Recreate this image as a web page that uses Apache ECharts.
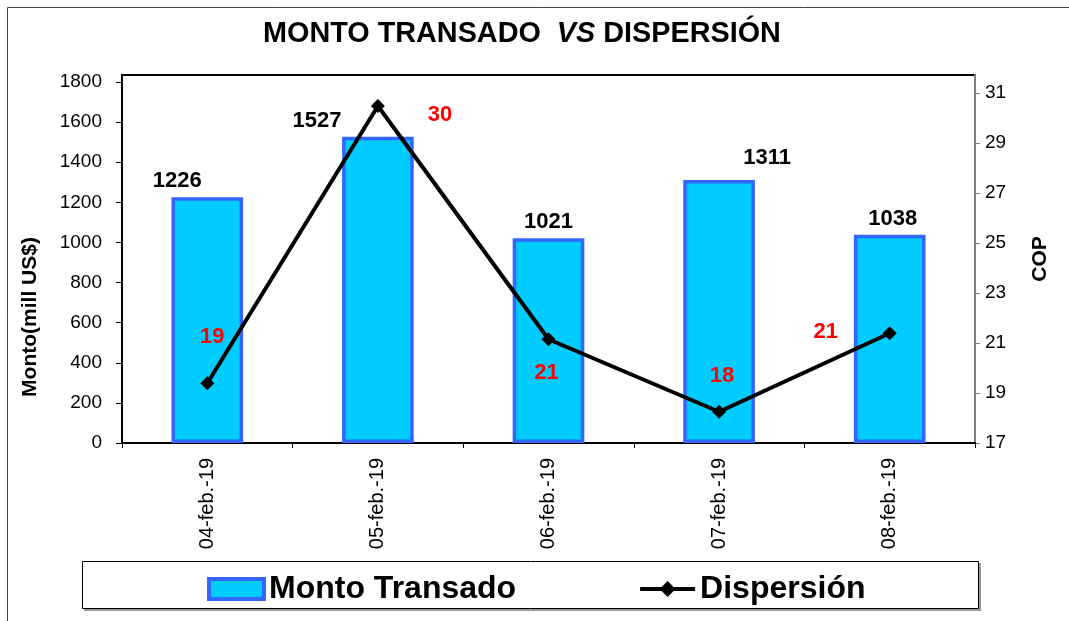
<!DOCTYPE html>
<html>
<head>
<meta charset="utf-8">
<script src="https://cdn.jsdelivr.net/npm/echarts@6/dist/echarts.min.js"></script>
<style>
html,body{margin:0;padding:0;background:#fff;}
#chart{width:1069px;height:621px;}
</style>
</head>
<body>
<div id="chart"></div>
<script>
// ---- data ----
const categories = ['04-feb.-19', '05-feb.-19', '06-feb.-19', '07-feb.-19', '08-feb.-19'];
const montoTransado = [1226, 1527, 1021, 1311, 1038];
const dispersion = [19.39, 30.48, 21.15, 18.25, 21.39];
const leftTicks = [0, 200, 400, 600, 800, 1000, 1200, 1400, 1600, 1800];
const rightTicks = [17, 19, 21, 23, 25, 27, 29, 31];

// ---- label placement (styling only) ----
const barLabelOffsets = [[-30, 0], [-61, 0], [0, 0], [48, -6], [3, 0]];
const lineLabelOffsets = [[5, -46], [62, 9], [-2, 34], [3, -36], [-64, -1]];

const FONT = 'Liberation Sans, Arial, sans-serif';
const chart = echarts.init(document.getElementById('chart'));

const option = {
  backgroundColor: '#fff',
  animation: false,
  title: {
    text: '{a|MONTO TRANSADO  }{b|VS}{a| DISPERSIÓN}',
    left: 258,
    top: 15,
    textStyle: {
      rich: {
        a: { fontFamily: FONT, fontWeight: 'bold', fontSize: 28.8, color: '#000' },
        b: { fontFamily: FONT, fontWeight: 'bold', fontStyle: 'italic', fontSize: 28.8, color: '#000' }
      }
    }
  },
  grid: {
    left: 122, right: 94, top: 75, bottom: 178,
    show: true, borderColor: '#000', borderWidth: 2, backgroundColor: 'transparent'
  },
  legend: {
    left: 202, top: 568,
    itemWidth: 55, itemHeight: 20, itemGap: 122,
    textStyle: { fontFamily: FONT, fontWeight: 'bold', fontSize: 32, color: '#000' },
    data: [
      { name: 'Monto Transado', icon: 'rect', itemStyle: { borderWidth: 4 } },
      { name: 'Dispersión', lineStyle: { width: 4 } }
    ]
  },
  xAxis: {
    type: 'category',
    data: categories,
    axisLine: { lineStyle: { color: '#000', width: 2 } },
    axisTick: { show: true, length: 5, lineStyle: { color: '#000', width: 1 } },
    axisLabel: { rotate: 90, margin: 15, fontFamily: FONT, fontSize: 20, color: '#000' },
    splitLine: { show: false }
  },
  yAxis: [
    {
      type: 'value', min: 0, max: 1835, interval: 200,
      axisLine: { show: true, lineStyle: { color: '#000', width: 2 } },
      axisTick: { show: true, length: 6, lineStyle: { color: '#000' }, customValues: leftTicks },
      axisLabel: { margin: 20, fontFamily: FONT, fontSize: 19, color: '#000', customValues: leftTicks, formatter: v => String(v) },
      splitLine: { show: false }
    },
    {
      type: 'value', min: 17, max: 31.72, interval: 2,
      position: 'right',
      name: 'COP', nameLocation: 'middle', nameRotate: 90, nameGap: 55,
      nameTextStyle: { fontFamily: FONT, fontWeight: 'bold', fontSize: 21, color: '#000' },
      axisLine: { show: true, lineStyle: { color: '#808080', width: 2 } },
      axisTick: { show: true, length: 5, lineStyle: { color: '#808080' }, customValues: rightTicks },
      axisLabel: { margin: 10, fontFamily: FONT, fontSize: 19, color: '#000', customValues: rightTicks, formatter: v => String(v) },
      splitLine: { show: false }
    }
  ],
  graphic: [
    {
      type: 'rect', z: -10, silent: true,
      shape: { x: 7.5, y: 7.5, width: 1100, height: 700 },
      style: { fill: 'none', stroke: '#444', lineWidth: 1 }
    },
    {
      type: 'polyline', z: -6, silent: true,
      shape: { points: [[980, 563], [980, 610], [84, 610]] },
      style: { stroke: '#999', lineWidth: 2, fill: 'none' }
    },
    {
      type: 'rect', z: -5, silent: true,
      shape: { x: 82.5, y: 561.5, width: 896, height: 47 },
      style: { fill: '#fff', stroke: '#000', lineWidth: 1 }
    },
    {
      type: 'text', silent: true,
      x: 30, y: 317, rotation: Math.PI / 2,
      style: {
        text: 'Monto(mill US$)', fontFamily: FONT, fontWeight: 'bold', fontSize: 21, fill: '#000',
        textAlign: 'center', textVerticalAlign: 'middle'
      }
    }
  ],
  series: [
    {
      name: 'Monto Transado',
      type: 'bar',
      yAxisIndex: 0,
      barWidth: '42%',
      data: montoTransado.map((v, i) => ({ value: v, label: { offset: barLabelOffsets[i] } })),
      itemStyle: { color: '#00ccff', borderColor: '#3366ff', borderWidth: 3.5 },
      label: {
        show: true, position: 'top', distance: 5,
        fontFamily: FONT, fontWeight: 'bold', fontSize: 22, color: '#000'
      }
    },
    {
      name: 'Dispersión',
      type: 'line',
      yAxisIndex: 1,
      data: dispersion.map((v, i) => ({ value: v, label: { offset: lineLabelOffsets[i] } })),
      symbol: 'diamond',
      symbolSize: 14,
      itemStyle: { color: '#000' },
      lineStyle: { color: '#000', width: 4 },
      label: {
        show: true, position: 'inside',
        formatter: p => Math.round(p.value).toString(),
        fontFamily: FONT, fontWeight: 'bold', fontSize: 22, color: '#ff0000'
      },
      z: 5
    }
  ]
};
chart.setOption(option);
</script>
</body>
</html>
